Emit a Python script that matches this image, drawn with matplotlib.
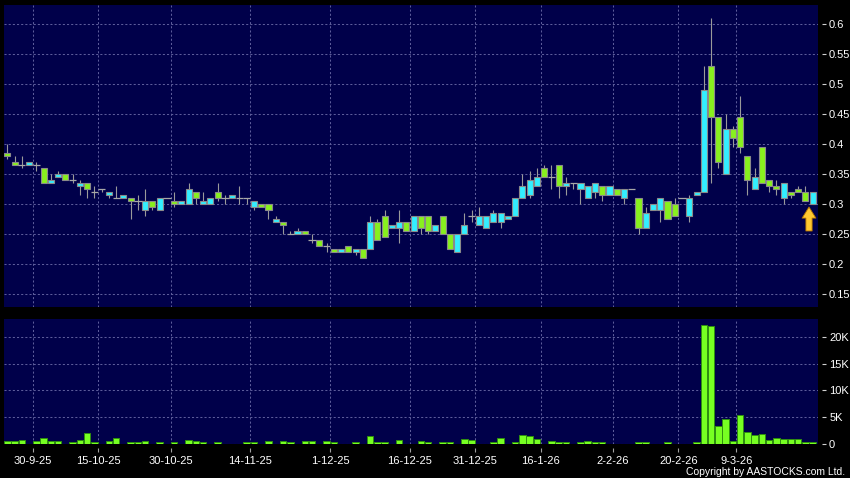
import matplotlib.pyplot as plt
import numpy as np

plt.rcParams['font.family'] = ['Liberation Sans', 'DejaVu Sans']

# daily candles (cyan = close above open, green = close below)
opens = [0.385, 0.37, 0.365, 0.365, 0.365, 0.36, 0.335, 0.345, 0.35, 0.34,
         0.33, 0.335, 0.32, 0.325, 0.315, 0.31, 0.31, 0.31, 0.305, 0.29,
         0.305, 0.29, 0.31, 0.305, 0.30, 0.30, 0.32, 0.30, 0.30, 0.32,
         0.31, 0.31, 0.31, 0.31, 0.295, 0.30, 0.30, 0.27, 0.27, 0.25,
         0.25, 0.255, 0.24, 0.24, 0.23, 0.225, 0.22, 0.23, 0.22, 0.225,
         0.225, 0.27, 0.28, 0.26, 0.26, 0.27, 0.255, 0.28, 0.28, 0.255,
         0.28, 0.25, 0.22, 0.25, 0.28, 0.265, 0.26, 0.27, 0.27, 0.275,
         0.28, 0.31, 0.315, 0.33, 0.36, 0.345, 0.365, 0.33, 0.335, 0.325,
         0.31, 0.32, 0.33, 0.315, 0.325, 0.31, 0.325, 0.31, 0.26, 0.29,
         0.29, 0.305, 0.30, 0.31, 0.28, 0.315, 0.32, 0.53, 0.445, 0.35,
         0.425, 0.445, 0.38, 0.325, 0.395, 0.34, 0.33, 0.31, 0.32, 0.325,
         0.32, 0.30]
highs = [0.40, 0.38, 0.38, 0.37, 0.37, 0.36, 0.35, 0.355, 0.35, 0.35,
         0.34, 0.335, 0.33, 0.325, 0.32, 0.33, 0.315, 0.31, 0.315, 0.325,
         0.305, 0.31, 0.31, 0.32, 0.305, 0.335, 0.32, 0.32, 0.31, 0.335,
         0.315, 0.315, 0.33, 0.31, 0.305, 0.30, 0.30, 0.28, 0.27, 0.255,
         0.26, 0.255, 0.25, 0.24, 0.235, 0.225, 0.225, 0.23, 0.225, 0.225,
         0.28, 0.275, 0.29, 0.265, 0.29, 0.27, 0.28, 0.28, 0.28, 0.265,
         0.28, 0.25, 0.25, 0.285, 0.29, 0.295, 0.28, 0.29, 0.285, 0.28,
         0.31, 0.35, 0.355, 0.36, 0.365, 0.365, 0.365, 0.345, 0.335, 0.335,
         0.33, 0.335, 0.33, 0.33, 0.325, 0.325, 0.325, 0.31, 0.295, 0.30,
         0.31, 0.305, 0.31, 0.31, 0.315, 0.32, 0.53, 0.61, 0.445, 0.45,
         0.43, 0.48, 0.38, 0.36, 0.395, 0.34, 0.34, 0.335, 0.32, 0.33,
         0.33, 0.32]
lows = [0.375, 0.365, 0.36, 0.365, 0.355, 0.335, 0.335, 0.345, 0.34, 0.335,
        0.315, 0.31, 0.31, 0.32, 0.31, 0.31, 0.31, 0.275, 0.29, 0.28,
        0.29, 0.29, 0.31, 0.295, 0.30, 0.30, 0.30, 0.30, 0.30, 0.305,
        0.30, 0.31, 0.30, 0.30, 0.29, 0.295, 0.275, 0.27, 0.25, 0.25,
        0.25, 0.25, 0.235, 0.23, 0.22, 0.22, 0.22, 0.22, 0.215, 0.21,
        0.225, 0.24, 0.245, 0.26, 0.235, 0.255, 0.255, 0.25, 0.25, 0.255,
        0.25, 0.225, 0.22, 0.25, 0.27, 0.265, 0.26, 0.27, 0.26, 0.275,
        0.28, 0.31, 0.31, 0.33, 0.345, 0.325, 0.31, 0.315, 0.325, 0.30,
        0.31, 0.31, 0.305, 0.315, 0.315, 0.30, 0.325, 0.25, 0.26, 0.29,
        0.27, 0.275, 0.28, 0.31, 0.27, 0.315, 0.32, 0.335, 0.36, 0.35,
        0.395, 0.385, 0.315, 0.325, 0.335, 0.32, 0.315, 0.30, 0.31, 0.32,
        0.305, 0.30]
closes = [0.38, 0.365, 0.365, 0.37, 0.365, 0.335, 0.34, 0.35, 0.34, 0.34,
          0.335, 0.325, 0.32, 0.325, 0.32, 0.31, 0.315, 0.305, 0.305, 0.305,
          0.295, 0.31, 0.31, 0.30, 0.305, 0.325, 0.31, 0.305, 0.31, 0.31,
          0.31, 0.315, 0.31, 0.31, 0.305, 0.295, 0.29, 0.275, 0.265, 0.25,
          0.255, 0.25, 0.24, 0.23, 0.23, 0.22, 0.225, 0.22, 0.225, 0.21,
          0.27, 0.24, 0.245, 0.265, 0.27, 0.255, 0.28, 0.26, 0.255, 0.265,
          0.25, 0.225, 0.25, 0.265, 0.28, 0.28, 0.28, 0.285, 0.285, 0.28,
          0.31, 0.33, 0.34, 0.345, 0.345, 0.345, 0.33, 0.335, 0.335, 0.335,
          0.33, 0.335, 0.315, 0.33, 0.315, 0.325, 0.325, 0.26, 0.285, 0.30,
          0.31, 0.275, 0.28, 0.31, 0.31, 0.32, 0.49, 0.445, 0.37, 0.425,
          0.41, 0.395, 0.34, 0.345, 0.335, 0.33, 0.325, 0.335, 0.315, 0.32,
          0.305, 0.32]
volumes = [400, 400, 600, 0, 450, 1100, 450, 450, 0, 200,
           700, 2000, 250, 0, 450, 1050, 0, 250, 250, 450,
           0, 250, 0, 250, 0, 750, 500, 250, 0, 250,
           0, 0, 0, 300, 250, 0, 450, 0, 450, 350,
           0, 450, 450, 0, 500, 350, 0, 0, 250, 0,
           1350, 300, 250, 0, 750, 0, 0, 400, 250, 0,
           250, 250, 0, 900, 600, 0, 0, 350, 1000, 0,
           300, 1600, 1400, 800, 0, 400, 350, 200, 0, 200,
           500, 200, 250, 0, 0, 0, 0, 350, 300, 0,
           0, 200, 0, 0, 0, 300, 22250, 22100, 3200, 4600,
           500, 5300, 2200, 1600, 1800, 600, 1100, 800, 900, 800,
           300, 300]

date_idx = [3, 12, 22, 33, 44, 55, 64, 73, 83, 92, 100]
date_labels = ['30-9-25', '15-10-25', '30-10-25', '14-11-25', '1-12-25', '16-12-25',
               '31-12-25', '16-1-26', '2-2-26', '20-2-26', '9-3-26']
price_ticks = [0.15, 0.2, 0.25, 0.3, 0.35, 0.4, 0.45, 0.5, 0.55, 0.6]
price_labels = ['0.15', '0.2', '0.25', '0.3', '0.35', '0.4', '0.45', '0.5', '0.55', '0.6']
vol_ticks = [0, 5000, 10000, 15000, 20000]
vol_labels = ['0', '5K', '10K', '15K', '20K']

o = np.array(opens)
h = np.array(highs)
l = np.array(lows)
c = np.array(closes)
v = np.array(volumes)
x = np.arange(len(o))

panel = '#00004a'
grid_col = '#5c5c9a'
up_col = '#33eeff'
down_col = '#88f01e'
edge_col = '#8a8a8a'

fig = plt.figure(figsize=(8.5, 4.78), dpi=100, facecolor='black')
ax1 = fig.add_axes([4/850, 1 - 306.5/478, 814/850, 301.5/478])
ax2 = fig.add_axes([4/850, 1 - 444/478, 814/850, 125.5/478])

for ax in (ax1, ax2):
    ax.set_facecolor(panel)
    for s in ax.spines.values():
        s.set_visible(False)
    ax.spines['right'].set_position(('outward', 3))
    ax.spines['bottom'].set_position(('outward', 3))
    ax.set_xlim(-0.455, 111.74)
    ax.set_xticks(np.array(date_idx) + 0.5)
    ax.grid(True, color=grid_col, linestyle=(0, (2, 2)), linewidth=0.75)
    ax.set_axisbelow(True)
    ax.yaxis.tick_right()
    ax.tick_params(axis='y', colors='#d0d0d0', labelcolor='white', length=3,
                   width=0.8, pad=2, labelsize=8)
    ax.tick_params(axis='x', colors='#a0a0a0', labelcolor='white', length=3,
                   width=0.8, pad=3, labelsize=8)

# price panel
ax1.set_ylim(0.12917, 0.63167)
ax1.set_yticks(price_ticks)
ax1.set_yticklabels(price_labels)
ax1.set_xticklabels([])
ax1.tick_params(axis='x', length=0)

ax1.vlines(x, l, h, color='#9a9a9a', linewidth=0.8, zorder=2)
flat = o == c
body = ~flat
cols = np.where(c > o, up_col, down_col)
ax1.bar(x[body], np.abs(c - o)[body], width=0.84, bottom=np.minimum(o, c)[body],
        color=cols[body], edgecolor=edge_col, linewidth=0.8, zorder=3)
ax1.hlines(c[flat], x[flat] - 0.5, x[flat] + 0.5, color='#a8a8a8', linewidth=0.9, zorder=3)

ax1.annotate('', xy=(x[-1] - 0.5, l[-1] - 0.005), xytext=(x[-1] - 0.5, l[-1] - 0.045),
             arrowprops=dict(arrowstyle='simple,head_width=1.0,head_length=0.8,tail_width=0.45',
                             fc='#ffc830', ec='#b07000', lw=0.6, shrinkA=0, shrinkB=0),
             zorder=5)

# volume panel
ax2.set_ylim(-90, 23440)
ax2.set_yticks(vol_ticks)
ax2.set_yticklabels(vol_labels)
ax2.set_xticklabels(date_labels)
ax2.bar(x, v, width=0.9, color='#77ff22', edgecolor='#2f8f10', linewidth=0.7, zorder=3)

fig.text(845/850, 1 - 472/478, 'Copyright by AASTOCKS.com Ltd.', color='white',
         fontsize=7.5, ha='right', va='center')

fig.savefig('out.png', dpi=100, facecolor='black')
